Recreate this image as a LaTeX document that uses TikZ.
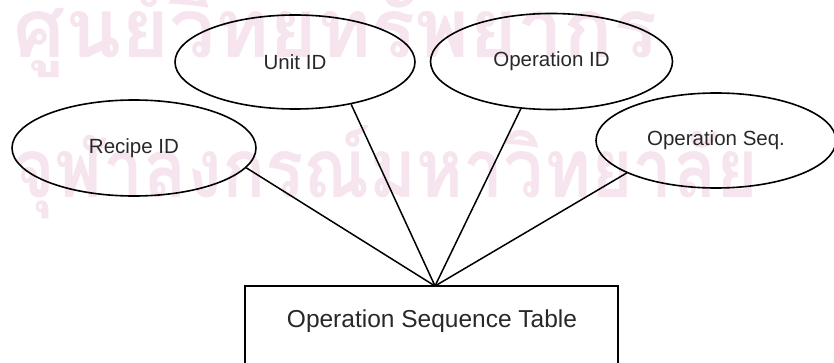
\documentclass[tikz,border=0pt]{standalone}
\usepackage{fontspec}
\setmainfont{Liberation Sans}
\newfontfamily\thaifont[Script=Thai]{Loma}
\usetikzlibrary{shapes.geometric}
\definecolor{inkgray}{RGB}{40,40,40}
\definecolor{stamp}{RGB}{246,229,238}
\tikzset{
  attr/.style={draw=black, line width=1.6pt, ellipse, inner sep=0pt,
    text=inkgray, font=\fontsize{20.5}{24}\selectfont},
  entity/.style={draw=black, line width=1.5pt, rectangle, inner sep=0pt},
  link/.style={draw=black, line width=1.5pt},
  stamptext/.style={text=stamp, inner sep=0pt, anchor=base west,
    font=\thaifont\bfseries\fontsize{82}{82}\selectfont}
}
\begin{document}
\begin{tikzpicture}[x=1pt,y=1pt]
\useasboundingbox (0,0) rectangle (834,362);
% faint library stamp behind the diagram
\node[stamptext] (stampA) at (13,304) {ศูนย์วิทยทรัพยากร};
\node[stamptext, xscale=0.87, transform shape] (stampB) at (13,165) {จุฬาลงกรณ์มหาวิทยาลัย};

% attributes
\node[attr, minimum width=244pt, minimum height=96pt] (recipe) at (134,214) {Recipe ID};
\node[attr, minimum width=240pt, minimum height=94pt] (unit) at (295,300) {Unit ID};
\node[attr, minimum width=242pt, minimum height=96pt] (opid) at (551.5,300.5) {Operation ID};
\node[attr, minimum width=240pt, minimum height=95pt] (opseq) at (716,221.5) {Operation Seq.};

% table entity (bottom runs off the page)
\node[entity, minimum width=373pt, minimum height=106pt] (table) at (431.5,23) {};
\node[text=inkgray, font=\fontsize{24.5}{28}\selectfont, inner sep=0pt] (tablelabel) at (432,41) {Operation Sequence Table};
\coordinate (hub) at (435,76);

% connectors
\draw[link] (recipe.-10.4) -- (hub);
\draw[link] (unit.-37.7) -- (hub);
\draw[link] (opid.-123) -- (hub);
\draw[link] (opseq.-160.9) -- (hub);
\end{tikzpicture}
\end{document}
